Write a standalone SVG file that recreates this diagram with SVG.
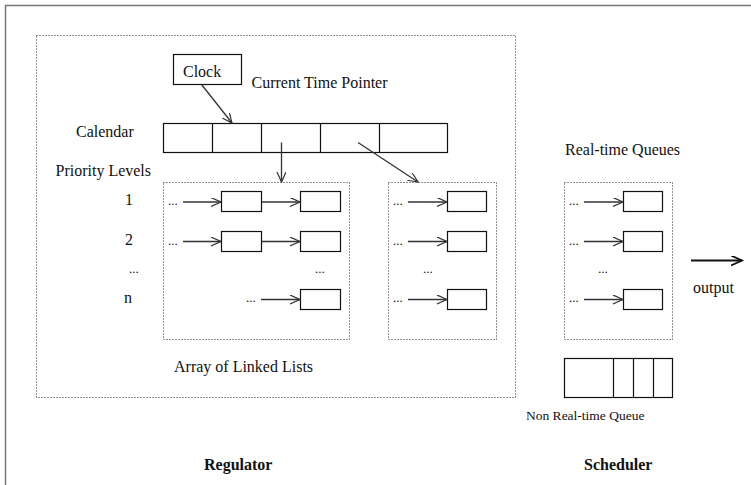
<svg xmlns="http://www.w3.org/2000/svg" width="751" height="485" viewBox="0 0 751 485">
<defs>
<style>
.t{font-family:"Liberation Serif","Times New Roman",serif;font-size:16px;fill:#111}
.s{font-family:"Liberation Serif","Times New Roman",serif;font-size:13.5px;fill:#111}
.d{font-family:"Liberation Serif","Times New Roman",serif;font-size:13px;fill:#111}
.b{font-family:"Liberation Serif","Times New Roman",serif;font-size:16px;font-weight:bold;fill:#111}
.box{fill:#fff;stroke:#111;stroke-width:1.2}
.dot{fill:none;stroke:#222;stroke-width:1;stroke-dasharray:1 2}
.ar{fill:none;stroke:#333;stroke-width:1.3;marker-end:url(#ah)}
</style>
<marker id="ah" markerUnits="userSpaceOnUse" markerWidth="12" markerHeight="10" refX="10" refY="4.5" orient="auto" viewBox="0 0 12 10">
<path d="M0,0 L10,4.5 L0,9" fill="none" stroke="#333" stroke-width="1.2"/>
</marker>
<marker id="ah2" markerUnits="userSpaceOnUse" markerWidth="14" markerHeight="12" refX="11" refY="5" orient="auto" viewBox="0 0 14 12">
<path d="M0,0 L11,5 L0,10" fill="none" stroke="#111" stroke-width="1.8"/>
</marker>
</defs>
<rect width="751" height="485" fill="#fff"/>
<path d="M5.5,490 V5.5 H760" fill="none" stroke="#777" stroke-width="1.5"/>

<g id="regulator">
<rect class="dot" x="36.5" y="35.5" width="479" height="362"/>
<text class="b" x="204" y="470">Regulator</text>
</g>

<g id="clock">
<rect class="box" x="173.5" y="54.5" width="68" height="30"/>
<text class="t" x="183" y="77">Clock</text>
</g>
<text class="t" x="251.5" y="88">Current Time Pointer</text>

<g id="calendar">
<text class="t" x="76" y="137">Calendar</text>
<rect class="box" x="163.5" y="123.5" width="284" height="29"/>
<path d="M212.5,123.5V152.5M261.5,123.5V152.5M320.5,123.5V152.5M379.5,123.5V152.5" stroke="#111" stroke-width="1.2"/>
</g>

<g id="priority-labels">
<text class="t" x="55.5" y="176">Priority Levels</text>
<text class="t" x="125" y="205">1</text>
<text class="t" x="125" y="245">2</text>
<text class="d" x="129" y="273">...</text>
<text class="t" x="124" y="303">n</text>
</g>

<g id="array1">
<rect class="dot" x="163.5" y="182.5" width="186" height="157"/>
<text class="d" x="168" y="205">...</text>
<text class="d" x="168" y="245">...</text>
<text class="d" x="315" y="273">...</text>
<text class="d" x="246" y="302">...</text>
<rect class="box" x="221.5" y="191.5" width="40" height="20"/>
<rect class="box" x="300.5" y="191.5" width="40" height="20"/>
<rect class="box" x="221.5" y="231.5" width="40" height="20"/>
<rect class="box" x="300.5" y="231.5" width="40" height="20"/>
<rect class="box" x="300.5" y="289.5" width="40" height="20"/>
</g>

<g id="array2">
<rect class="dot" x="388.5" y="182.5" width="108" height="157"/>
<text class="d" x="393" y="205">...</text>
<text class="d" x="393" y="245">...</text>
<text class="d" x="423" y="273">...</text>
<text class="d" x="393" y="302">...</text>
<rect class="box" x="447.5" y="191.5" width="39" height="20"/>
<rect class="box" x="447.5" y="231.5" width="39" height="20"/>
<rect class="box" x="447.5" y="289.5" width="39" height="20"/>
</g>
<text class="t" x="174" y="372">Array of Linked Lists</text>

<g id="scheduler">
<text class="t" x="565" y="155">Real-time Queues</text>
<rect class="dot" x="564.5" y="182.5" width="108" height="157"/>
<text class="d" x="569" y="205">...</text>
<text class="d" x="569" y="245">...</text>
<text class="d" x="598" y="273">...</text>
<text class="d" x="569" y="302">...</text>
<rect class="box" x="623.5" y="191.5" width="39" height="20"/>
<rect class="box" x="623.5" y="231.5" width="39" height="20"/>
<rect class="box" x="623.5" y="289.5" width="39" height="20"/>
<text class="b" x="584" y="470">Scheduler</text>
</g>

<g id="non-rt-queue">
<rect class="box" x="564.5" y="358.5" width="108" height="39"/>
<path d="M613.5,358.5V397.5M633.5,358.5V397.5M653.5,358.5V397.5" stroke="#111" stroke-width="1.2"/>
<text class="s" x="526" y="420">Non Real-time Queue</text>
</g>

<g id="output">
<text class="t" x="693" y="293">output</text>
</g>

<g id="connectors">
<line class="ar" x1="201.5" y1="84.5" x2="232" y2="123"/>
<line class="ar" x1="281.5" y1="142.5" x2="281.5" y2="182"/>
<line class="ar" x1="358" y1="142.5" x2="418" y2="182"/>
<line class="ar" x1="183" y1="202" x2="221" y2="202"/>
<line class="ar" x1="262" y1="202" x2="300" y2="202"/>
<line class="ar" x1="183" y1="241.5" x2="221" y2="241.5"/>
<line class="ar" x1="262" y1="241.5" x2="300" y2="241.5"/>
<line class="ar" x1="261" y1="299.5" x2="300" y2="299.5"/>
<line class="ar" x1="408" y1="202" x2="447" y2="202"/>
<line class="ar" x1="408" y1="241.5" x2="447" y2="241.5"/>
<line class="ar" x1="408" y1="299.5" x2="447" y2="299.5"/>
<line class="ar" x1="584" y1="202" x2="623" y2="202"/>
<line class="ar" x1="584" y1="241.5" x2="623" y2="241.5"/>
<line class="ar" x1="584" y1="299.5" x2="623" y2="299.5"/>
<line x1="691" y1="260.5" x2="742" y2="260.5" stroke="#111" stroke-width="1.8" marker-end="url(#ah2)"/>
</g>
</svg>
